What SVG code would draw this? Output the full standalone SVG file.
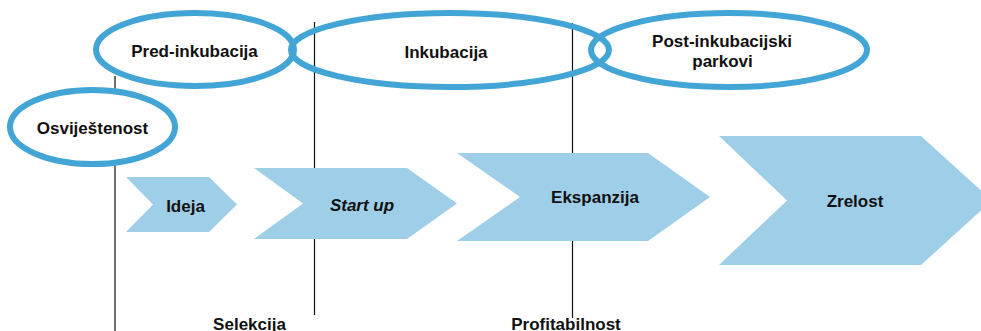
<svg xmlns="http://www.w3.org/2000/svg" width="981" height="331" viewBox="0 0 981 331">
  <style>
    .stage { fill: none; stroke: #43a5d5; stroke-width: 6; }
    .stage-filled { fill: #ffffff; stroke: #43a5d5; stroke-width: 6; }
    .phase { fill: #9fcfe8; stroke: none; }
    .divider { stroke: #111111; stroke-width: 1.2; fill: none; }
    .label { font-family: "Liberation Sans", Arial, sans-serif; font-size: 17px; font-weight: bold; fill: #111111; text-anchor: middle; }
    .italic { font-style: italic; }
  </style>

  <rect x="0" y="0" width="981" height="331" fill="#ffffff"/>

  <!-- vertical phase dividers -->
  <g id="connectors">
    <line class="divider" x1="115" y1="76" x2="115" y2="331"/>
    <line class="divider" x1="314.5" y1="22" x2="314.5" y2="315"/>
    <line class="divider" x1="572.5" y1="23" x2="572.5" y2="318"/>
  </g>

  <!-- support stages (ellipses) -->
  <g id="pred-inkubacija">
    <ellipse class="stage" cx="195" cy="49.5" rx="99" ry="36.5"/>
    <text class="label" x="194.5" y="57">Pred-inkubacija</text>
  </g>
  <g id="inkubacija">
    <ellipse class="stage" cx="450" cy="50" rx="159" ry="37"/>
    <text class="label" x="446" y="58">Inkubacija</text>
  </g>
  <g id="post-inkubacija">
    <ellipse class="stage" cx="729" cy="50" rx="138" ry="37"/>
    <text class="label" x="722" y="47">Post-inkubacijski</text>
    <text class="label" x="722.5" y="67">parkovi</text>
  </g>
  <g id="osvijestenost">
    <ellipse class="stage-filled" cx="92.5" cy="127" rx="82.5" ry="37"/>
    <text class="label" x="92.5" y="134">Osviještenost</text>
  </g>

  <!-- company phases (chevrons) -->
  <g id="ideja">
    <polygon class="phase" points="126,177 209,177 237,204.5 209,232 126,232 153,204.5"/>
    <text class="label" x="185.5" y="212">Ideja</text>
  </g>
  <g id="start-up">
    <polygon class="phase" points="254,168 407,168 457,203.5 407,239 254,239 303,203.5"/>
    <text class="label italic" x="362" y="211">Start up</text>
  </g>
  <g id="ekspanzija">
    <polygon class="phase" points="457,153 648,153 710,197 648,241 457,241 520,197"/>
    <text class="label" x="595" y="203">Ekspanzija</text>
  </g>
  <g id="zrelost">
    <polygon class="phase" points="719,136 921,136 992,200.5 921,265 719,265 787,200.5"/>
    <text class="label" x="855" y="207">Zrelost</text>
  </g>

  <!-- milestone labels -->
  <g id="selekcija">
    <text class="label" x="249.5" y="330">Selekcija</text>
  </g>
  <g id="profitabilnost">
    <text class="label" x="566" y="330">Profitabilnost</text>
  </g>
</svg>
